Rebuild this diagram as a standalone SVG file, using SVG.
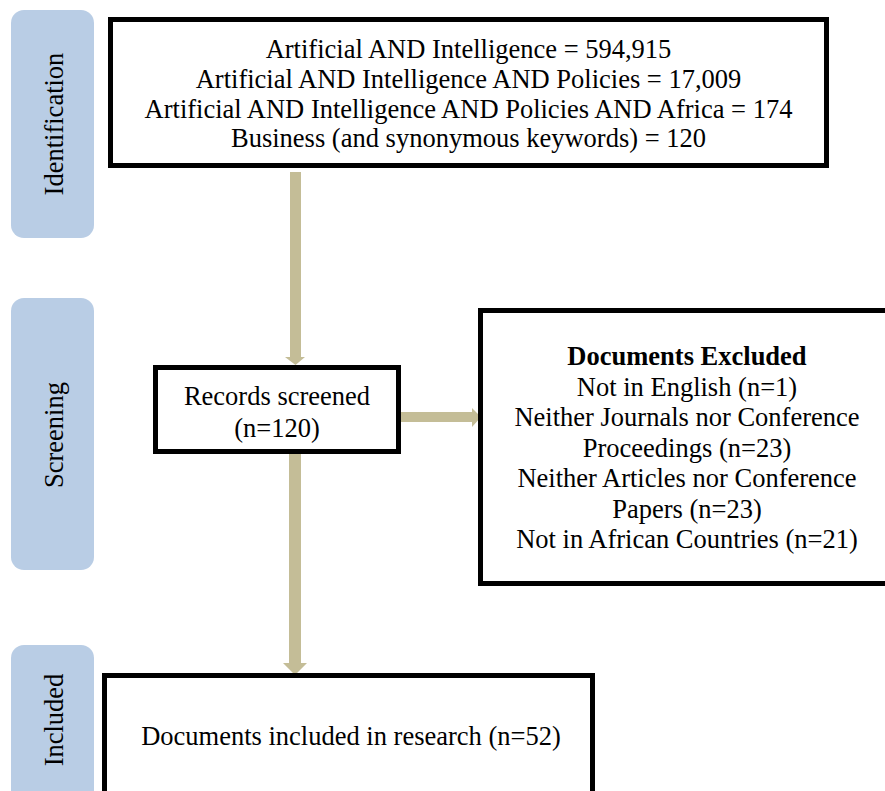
<svg xmlns="http://www.w3.org/2000/svg" width="885" height="791" viewBox="0 0 885 791">
<style>
.side{fill:#b9cde5;}
.box{fill:#fff;stroke:#000;stroke-width:5;}
.t{font-family:"Liberation Serif","Times New Roman",serif;font-size:26.5px;fill:#000;text-anchor:middle;}
.st{font-family:"Liberation Serif","Times New Roman",serif;font-size:26.5px;fill:#000;text-anchor:middle;}
.arr{fill:#c4bd97;}
</style>
<rect width="885" height="791" fill="#fff"/>
<g id="side-identification">
<rect class="side" x="11" y="10" width="83" height="228" rx="13"/>
<text class="st" transform="translate(63,124) rotate(-90)">Identification</text>
</g>
<g id="side-screening">
<rect class="side" x="11" y="298" width="83" height="272" rx="13"/>
<text class="st" transform="translate(63,435) rotate(-90)">Screening</text>
</g>
<g id="side-included">
<rect class="side" x="11" y="645" width="83" height="160" rx="13"/>
<text class="st" transform="translate(63,720) rotate(-90)">Included</text>
</g>
<g id="connectors">
<path class="arr" d="M290,172 H301 V357 H305 L295.5,365 L285,357 H290 Z"/>
<path class="arr" d="M289,454 H301 V663 H307 L295,675 L283,663 H289 Z"/>
<path class="arr" d="M401,412 H472 V408 L481,417 L472,427 V422 H401 Z"/>
</g>
<g id="identification">
<rect class="box" x="110.5" y="19.5" width="716" height="146"/>
<text class="t" x="468.5" y="58">Artificial AND Intelligence = 594,915</text>
<text class="t" x="468.5" y="88">Artificial AND Intelligence AND Policies = 17,009</text>
<text class="t" x="468.5" y="118">Artificial AND Intelligence AND Policies AND Africa = 174</text>
<text class="t" x="468.5" y="147">Business (and synonymous keywords) = 120</text>
</g>
<g id="screened">
<rect class="box" x="155.5" y="367.5" width="243" height="84"/>
<text class="t" x="277" y="405">Records screened</text>
<text class="t" x="277" y="437">(n=120)</text>
</g>
<g id="excluded">
<rect class="box" x="480.5" y="310.5" width="413" height="273"/>
<text class="t" x="687" y="365" font-weight="bold">Documents Excluded</text>
<text class="t" x="687" y="395.5">Not in English (n=1)</text>
<text class="t" x="687" y="426">Neither Journals nor Conference</text>
<text class="t" x="687" y="456.5">Proceedings (n=23)</text>
<text class="t" x="687" y="487">Neither Articles nor Conference</text>
<text class="t" x="687" y="517.5">Papers (n=23)</text>
<text class="t" x="687" y="548">Not in African Countries (n=21)</text>
</g>
<g id="included">
<rect class="box" x="104.5" y="675.5" width="488" height="130"/>
<text class="t" x="351" y="745">Documents included in research (n=52)</text>
</g>
</svg>
